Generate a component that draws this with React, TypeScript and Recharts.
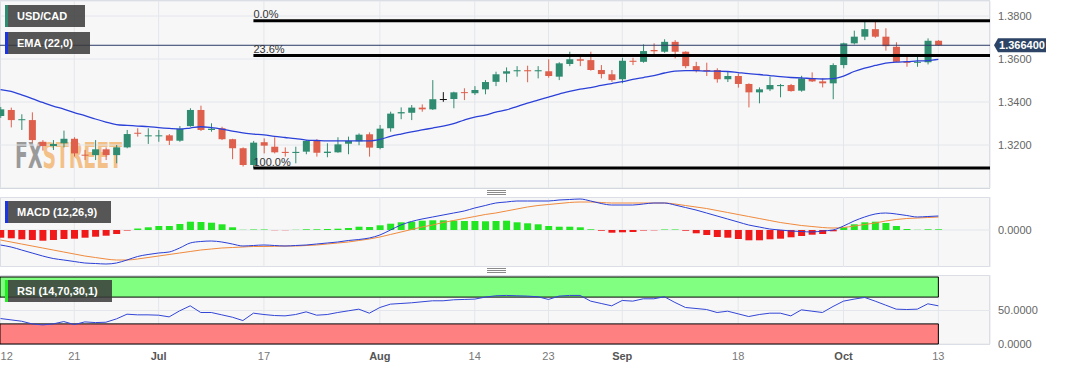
import React from "react";
import {
  Bar,
  CartesianGrid,
  Cell,
  ComposedChart,
  Line,
  ReferenceArea,
  ReferenceLine,
  XAxis,
  YAxis,
} from "recharts";

// USD/CAD daily, 12 Jun - 13 Oct
const opens = [
  1.3335, 1.3363, 1.3316, 1.3316, 1.3215, 1.3195, 1.3208, 1.3229, 1.3155, 1.3153,
  1.318, 1.3153, 1.3189, 1.3257, 1.3242, 1.3242, 1.3245, 1.322, 1.3288, 1.3363,
  1.327, 1.3278, 1.3227, 1.3185, 1.3107, 1.3213, 1.3192, 1.3168, 1.3163, 1.3169,
  1.3219, 1.3163, 1.3166, 1.3206, 1.3217, 1.325, 1.3186, 1.3278, 1.3347, 1.335,
  1.3374, 1.3366, 1.3414, 1.3414, 1.3446, 1.3441, 1.3459, 1.3494, 1.3532, 1.3543,
  1.3548, 1.3543, 1.3543, 1.3518, 1.3577, 1.3599, 1.3595, 1.3549, 1.3529, 1.3506,
  1.3592, 1.3587, 1.3642, 1.3634, 1.368, 1.3634, 1.3567, 1.3549, 1.3549, 1.3506,
  1.3521, 1.3484, 1.3445, 1.3459, 1.3474, 1.3479, 1.3453, 1.351, 1.3496, 1.3487,
  1.3572, 1.3673, 1.3704, 1.3739, 1.3704, 1.3657, 1.3587, 1.3583, 1.3585, 1.3685,
];
const highs = [
  1.3377, 1.3374, 1.3343, 1.3352, 1.3223, 1.3223, 1.3267, 1.3236, 1.3177, 1.3223,
  1.3189, 1.32, 1.327, 1.3278, 1.3278, 1.327, 1.3251, 1.3288, 1.3371, 1.3383,
  1.3301, 1.3285, 1.3229, 1.3189, 1.3219, 1.3231, 1.3236, 1.3189, 1.3192, 1.3223,
  1.3227, 1.3208, 1.3236, 1.3239, 1.3254, 1.3259, 1.3293, 1.3355, 1.3375, 1.3386,
  1.3389, 1.3502, 1.3446, 1.3448, 1.3464, 1.3474, 1.3502, 1.3541, 1.3561, 1.3567,
  1.3569, 1.3567, 1.3599, 1.3585, 1.3634, 1.3611, 1.3634, 1.3572, 1.3549, 1.3606,
  1.3606, 1.3668, 1.3673, 1.3692, 1.3688, 1.3636, 1.3587, 1.3583, 1.3557, 1.3544,
  1.3533, 1.3487, 1.3468, 1.3518, 1.3484, 1.3484, 1.3522, 1.3538, 1.351, 1.358,
  1.3676, 1.3732, 1.3775, 1.3778, 1.3743, 1.3678, 1.3611, 1.3623, 1.3696, 1.3688,
];
const lows = [
  1.3326, 1.3282, 1.327, 1.3208, 1.3174, 1.3177, 1.3189, 1.3146, 1.313, 1.313,
  1.313, 1.3115, 1.3185, 1.3239, 1.3205, 1.3215, 1.32, 1.3215, 1.3285, 1.3265,
  1.3262, 1.3223, 1.3134, 1.31, 1.3093, 1.3161, 1.3161, 1.3146, 1.3115, 1.3157,
  1.3146, 1.3143, 1.3164, 1.3157, 1.3199, 1.3146, 1.318, 1.3262, 1.332, 1.3316,
  1.3355, 1.3363, 1.3401, 1.3371, 1.3409, 1.3433, 1.3436, 1.3474, 1.3492, 1.3518,
  1.3492, 1.351, 1.3513, 1.3502, 1.3567, 1.3567, 1.3546, 1.351, 1.3494, 1.3487,
  1.3572, 1.3583, 1.3622, 1.3629, 1.3603, 1.3557, 1.3538, 1.3521, 1.349, 1.3493,
  1.3467, 1.3375, 1.3394, 1.3451, 1.3422, 1.3448, 1.3448, 1.3493, 1.3468, 1.3413,
  1.3557, 1.3668, 1.3688, 1.3699, 1.3639, 1.3585, 1.3564, 1.3564, 1.3575, 1.3662,
];
const closes = [
  1.3366, 1.3316, 1.332, 1.3223, 1.3195, 1.3205, 1.3229, 1.3161, 1.3152, 1.318,
  1.3153, 1.3189, 1.3251, 1.3253, 1.3245, 1.3245, 1.322, 1.3276, 1.3363, 1.327,
  1.3276, 1.3227, 1.3185, 1.3107, 1.3211, 1.3197, 1.3166, 1.3163, 1.3168, 1.3219,
  1.3164, 1.3169, 1.3203, 1.3219, 1.3248, 1.3188, 1.3276, 1.3346, 1.3353, 1.3374,
  1.3366, 1.3413, 1.3414, 1.3445, 1.3442, 1.3456, 1.3493, 1.3529, 1.3543, 1.3548,
  1.3543, 1.3548, 1.3521, 1.358, 1.3599, 1.3592, 1.3549, 1.353, 1.3502, 1.3592,
  1.3587, 1.3637, 1.3636, 1.368, 1.3634, 1.3567, 1.3544, 1.3544, 1.3506, 1.3521,
  1.3484, 1.3445, 1.3459, 1.3479, 1.3479, 1.3451, 1.351, 1.3496, 1.3487, 1.3572,
  1.3673, 1.3704, 1.3739, 1.3704, 1.366, 1.3587, 1.3583, 1.3587, 1.3685, 1.3664,
];
const ema22 = [
  1.3458, 1.3449, 1.3433, 1.3416, 1.3398, 1.3381, 1.3367, 1.3351, 1.3337, 1.3321,
  1.3307, 1.3295, 1.3291, 1.3288, 1.3286, 1.3281, 1.3277, 1.3274, 1.3279, 1.3285,
  1.3281, 1.3274, 1.3265, 1.3256, 1.3251, 1.3247, 1.324, 1.3235, 1.323, 1.3223,
  1.3221, 1.3219, 1.3219, 1.3219, 1.3219, 1.3219, 1.3226, 1.324, 1.3251, 1.3261,
  1.327, 1.3279, 1.3288, 1.33, 1.3316, 1.333, 1.3339, 1.3353, 1.3363, 1.3379,
  1.3395, 1.3409, 1.3423, 1.3437, 1.3449, 1.346, 1.3467, 1.3477, 1.3486, 1.3495,
  1.3505, 1.3514, 1.3523, 1.3535, 1.3544, 1.3546, 1.3546, 1.3544, 1.3544, 1.3542,
  1.3537, 1.3532, 1.3528, 1.3523, 1.3518, 1.3514, 1.3512, 1.3509, 1.3507, 1.3509,
  1.3521, 1.3542, 1.3558, 1.357, 1.3581, 1.3586, 1.3588, 1.3591, 1.3593, 1.3598,
];
const macdLine = [
  -0.0015, -0.0017, -0.002, -0.0023, -0.0026, -0.00285, -0.003, -0.00315, -0.0033, -0.00335,
  -0.0034, -0.0033, -0.003, -0.00265, -0.00245, -0.0023, -0.0022, -0.0018, -0.0013, -0.00115,
  -0.0011, -0.0012, -0.0014, -0.0016, -0.00155, -0.0015, -0.00155, -0.0016, -0.00155, -0.0015,
  -0.0014, -0.0013, -0.0012, -0.00105, -0.00095, -0.0008, -0.0005, 0.0, 0.0005, 0.00085,
  0.0011, 0.0013, 0.0015, 0.0017, 0.0019, 0.0022, 0.00245, 0.0027, 0.0028, 0.0029,
  0.0029, 0.0029, 0.0029, 0.003, 0.00305, 0.0031, 0.0029, 0.00265, 0.0025, 0.0025,
  0.0025, 0.0026, 0.0027, 0.0027, 0.0025, 0.00225, 0.002, 0.0017, 0.0014, 0.0011,
  0.0008, 0.0005, 0.0003, 0.0001, 0.0, -0.0001, -0.00015, -0.0002, -0.0001, 0.0,
  0.0004, 0.0009, 0.0013, 0.0016, 0.0017, 0.0016, 0.00145, 0.0013, 0.00135, 0.0014,
];
const signalLine = [
  -0.001, -0.0012, -0.0014, -0.0016, -0.0018, -0.002, -0.0022, -0.0024, -0.0026, -0.00275,
  -0.0029, -0.003, -0.003, -0.0029, -0.00275, -0.0026, -0.00245, -0.0023, -0.00215, -0.002,
  -0.0019, -0.0018, -0.00175, -0.0017, -0.00165, -0.00165, -0.00163, -0.0016, -0.0016, -0.00155,
  -0.0015, -0.0014, -0.0013, -0.0012, -0.00105, -0.0009, -0.0007, -0.00045, -0.0002, 0.00005,
  0.0003, 0.0005, 0.00075, 0.00095, 0.00115, 0.00135, 0.00155, 0.0017, 0.0019, 0.0021,
  0.0023, 0.00245, 0.00255, 0.00265, 0.00275, 0.0028, 0.0028, 0.00275, 0.0027, 0.0027,
  0.0027, 0.0027, 0.0027, 0.0027, 0.0026, 0.00245, 0.0023, 0.00215, 0.00195, 0.00175,
  0.00155, 0.00135, 0.00115, 0.00095, 0.00075, 0.0006, 0.00045, 0.00035, 0.00025, 0.0002,
  0.00025, 0.0004, 0.00055, 0.0007, 0.0009, 0.00105, 0.00115, 0.0012, 0.00125, 0.0013,
];
const macdHist = [
  -0.00077, -0.00083, -0.00093, -0.001, -0.00107, -0.001, -0.0009, -0.00087, -0.00077, -0.00067,
  -0.00057, -0.0004, -0.00005, 0.00015, 0.00027, 0.0004, 0.0004, 0.0006, 0.00083, 0.0008,
  0.00073, 0.00057, 0.00027, 0.00002, 0.00005, 0.00005, -0.00002, -0.00002, 0.00002, 0.00007,
  0.00007, 0.0001, 0.00013, 0.0002, 0.00033, 0.0003, 0.00047, 0.00063, 0.00077, 0.00083,
  0.00093, 0.00097, 0.00097, 0.00093, 0.0009, 0.0009, 0.00087, 0.0009, 0.00093, 0.00077,
  0.00067, 0.00057, 0.0004, 0.00033, 0.00033, 0.00027, 0.00007, -0.00007, -0.00027, -0.00023,
  -0.0002, -0.00005, -0.00003, 0.00005, 0.00005, -0.00007, -0.00033, -0.0005, -0.0007, -0.00077,
  -0.0009, -0.00103, -0.00103, -0.00093, -0.00087, -0.00073, -0.0006, -0.00047, -0.0004, -0.00013,
  0.00027, 0.00057, 0.00077, 0.00083, 0.0007, 0.0004, 0.0001, 0.00002, 0.00007, 0.00007,
];
const rsi14 = [
  38, 36, 34, 30, 28.5, 30, 33.5, 29, 33, 32,
  32.5, 37.5, 44.5, 43.5, 43.5, 43, 40.5, 49.5, 57, 47,
  47, 43.5, 40, 35, 46, 44, 42.5, 42, 44, 48,
  43, 44, 47, 49.5, 52, 46, 54.5, 59.5, 60.5, 61.5,
  63, 64.5, 64.5, 66, 66.5, 67, 70, 72, 72.5, 72,
  71.5, 70.5, 66.5, 71.5, 72.5, 72.5, 64, 60.5, 57, 65,
  64, 67.5, 67.5, 70.5, 62, 54.5, 53, 51.5, 47, 49,
  45, 41, 44, 46, 46, 42, 51, 49, 47, 56,
  64, 67, 69.5, 64, 58, 52, 51.5, 52, 60, 57,
];

const tickIdx = [0, 7, 15, 25, 36, 45, 52, 59, 70, 80, 89];
const tickLabels = ["12", "21", "Jul", "17", "Aug", "14", "23", "Sep", "18", "Oct", "13"];

const fibRatios = [0, 0.236, 1];
const fibLabels = ["0.0%", "23.6%", "100.0%"];
const fibStart = 24;

const UP = "#2f8c70";
const DOWN = "#de5f4b";
const GRID = "#e3e6eb";
const PLOT_BG = "#f7f7f8";
const BORDER = "#d3d8df";
const X_MIN = -0.05;
const X_MAX = 93.9;
const FONT = "Arial, 'Liberation Sans', Helvetica, sans-serif";

const rows = closes.map((c, i) => ({
  i,
  open: opens[i],
  high: highs[i],
  low: lows[i],
  close: c,
  range: [lows[i], highs[i]],
  ema: ema22[i],
  macd: macdLine[i],
  signal: signalLine[i],
  hist: macdHist[i],
  rsi: rsi14[i],
}));

const lastClose = closes[closes.length - 1];
const swingHigh = Math.max(...highs);
const swingLow = Math.min(...lows);

function Candle(props: any) {
  const { x, y, width, height, payload } = props;
  if (!payload) return null;
  const { open, high, low, close } = payload;
  const top = Math.min(y, y + height);
  const h = Math.abs(height);
  const py = (p: number) => top + ((high - p) / (high - low)) * h;
  const color = close > open ? UP : close < open ? DOWN : "#111";
  const cx = x + width / 2;
  const bodyTop = py(Math.max(open, close));
  const bodyH = Math.max(1, py(Math.min(open, close)) - bodyTop);
  return (
    <g>
      <line x1={cx} x2={cx} y1={top} y2={top + h} stroke={color} strokeWidth={1} />
      <rect x={x} y={bodyTop} width={width} height={bodyH} fill={color} />
    </g>
  );
}

function PriceTag(props: any) {
  const vb = props.viewBox;
  if (!vb) return null;
  const cy = vb.y;
  const x0 = vb.x + vb.width + 4;
  return (
    <g>
      <path
        d={`M${x0},${cy} L${x0 + 4},${cy - 7} L${x0 + 52},${cy - 7} L${x0 + 52},${cy + 7} L${x0 + 4},${cy + 7} Z`}
        fill="#2d4466"
      />
      <text x={x0 + 28} y={cy} dy="0.36em" textAnchor="middle" fill="#fff" fontSize={11} fontWeight={700}>
        {lastClose.toFixed(6)}
      </text>
    </g>
  );
}

function DateTick(props: any) {
  const { x, y, payload } = props;
  const k = tickIdx.indexOf(payload.value);
  const label = k >= 0 ? tickLabels[k] : "";
  const month = /[A-Za-z]/.test(label);
  return (
    <text
      x={x}
      y={y}
      dy="0.71em"
      textAnchor={x < 6 ? "start" : "middle"}
      fill={month ? "#555" : "#777"}
      fontSize={11}
      fontWeight={month ? 700 : 400}
    >
      {label}
    </text>
  );
}

function Badge({ top, width, accent, text }: { top: number; width: number; accent: string; text: string }) {
  return (
    <div
      style={{
        position: "absolute",
        left: 5,
        top,
        width,
        height: 22,
        background: "rgba(58,58,58,0.85)",
        borderLeft: `3px solid ${accent}`,
        boxSizing: "border-box",
        color: "#fff",
        fontSize: 11,
        fontWeight: 700,
        lineHeight: "22px",
        paddingLeft: 9,
        whiteSpace: "nowrap",
      }}
    >
      {text}
    </div>
  );
}

function Handle({ top }: { top: number }) {
  return (
    <div style={{ position: "absolute", left: 487, top, width: 19, height: 5 }}>
      {[0, 2, 4].map((d) => (
        <div key={d} style={{ position: "absolute", left: 0, top: d, width: 19, height: 1, background: "#8a8a8a" }} />
      ))}
    </div>
  );
}

const panelBg = (top: number, height: number): React.CSSProperties => ({
  position: "absolute",
  left: 0,
  top,
  width: 990,
  height,
  background: PLOT_BG,
  border: `1px solid ${BORDER}`,
  boxSizing: "border-box",
});

const yTick = { fill: "#666", fontSize: 11 };

export default function App() {
  return (
    <div
      style={{
        position: "fixed",
        left: 0,
        top: 0,
        width: 1067,
        height: 370,
        background: "#fff",
        overflow: "hidden",
        fontFamily: FONT,
      }}
    >
      {/* panel backgrounds + watermark */}
      <div style={panelBg(0, 189)} />
      <div style={panelBg(197, 70)} />
      <div style={panelBg(275, 70)} />
      <svg style={{ position: "absolute", left: 0, top: 0 }} width={200} height={188}>
        <defs>
          <linearGradient id="wm" gradientUnits="userSpaceOnUse" x1={15} y1={0} x2={122} y2={0}>
            <stop offset="0.25" stopColor="#9a9a9a" />
            <stop offset="0.25" stopColor="#f3c088" />
          </linearGradient>
        </defs>
        <text
          x={15}
          y={168}
          fontSize={35}
          fontWeight={700}
          fontFamily="'DejaVu Sans Condensed', 'DejaVu Sans', sans-serif"
          fill="url(#wm)"
          textLength={107}
          lengthAdjust="spacingAndGlyphs"
        >
          FXSTREET
        </text>
      </svg>
      <Handle top={190} />
      <Handle top={268} />

      {/* price panel */}
      <div style={{ position: "absolute", left: 0, top: 0 }}>
        <ComposedChart width={1067} height={188} data={rows} margin={{ top: 1, right: 0, bottom: 0, left: 0 }}>
          <CartesianGrid stroke={GRID} fill="none" />
          <XAxis dataKey="i" type="number" domain={[X_MIN, X_MAX]} ticks={tickIdx} hide allowDataOverflow />
          <YAxis
            orientation="right"
            width={77}
            domain={[1.3, 1.387]}
            ticks={[1.32, 1.34, 1.36, 1.38]}
            tickFormatter={(v: number) => v.toFixed(4)}
            axisLine={false}
            tickLine={false}
            tick={yTick}
            allowDataOverflow
          />
          <Bar dataKey="range" barSize={7} shape={<Candle />} isAnimationActive={false} />
          <Line
            type="monotone"
            dataKey="ema"
            stroke="#2a40d8"
            strokeWidth={1.3}
            dot={false}
            activeDot={false}
            isAnimationActive={false}
          />
          <ReferenceLine y={lastClose} stroke="#2a3b66" strokeWidth={1} ifOverflow="visible" label={(p: any) => <PriceTag {...p} />} />
          {fibRatios.map((r, k) => {
            const lvl = swingHigh - r * (swingHigh - swingLow);
            return (
              <ReferenceLine
                key={k}
                segment={[
                  { x: fibStart, y: lvl },
                  { x: X_MAX, y: lvl },
                ]}
                stroke="#000"
                strokeWidth={3}
                ifOverflow="visible"
                label={(p: any) =>
                  p.viewBox ? (
                    <text x={p.viewBox.x} y={p.viewBox.y - 2.5} fontSize={11} fill="#333">
                      {fibLabels[k]}
                    </text>
                  ) : null
                }
              />
            );
          })}
        </ComposedChart>
      </div>

      {/* MACD panel */}
      <div style={{ position: "absolute", left: 0, top: 197 }}>
        <ComposedChart width={1067} height={70} data={rows} margin={{ top: 0, right: 0, bottom: 0, left: 0 }}>
          <CartesianGrid stroke={GRID} fill="none" />
          <XAxis dataKey="i" type="number" domain={[X_MIN, X_MAX]} ticks={tickIdx} hide allowDataOverflow />
          <YAxis
            orientation="right"
            width={77}
            domain={[-0.0037, 0.0033]}
            ticks={[0]}
            tickFormatter={(v: number) => v.toFixed(4)}
            axisLine={false}
            tickLine={false}
            tick={yTick}
            allowDataOverflow
          />
          <Bar dataKey="hist" barSize={7} isAnimationActive={false}>
            {rows.map((r) => (
              <Cell key={r.i} fill={r.hist >= 0 ? "#22e622" : "#f01818"} />
            ))}
          </Bar>
          <Line type="monotone" dataKey="signal" stroke="#f08a3c" strokeWidth={1} dot={false} activeDot={false} isAnimationActive={false} />
          <Line type="monotone" dataKey="macd" stroke="#2a3fd6" strokeWidth={1} dot={false} activeDot={false} isAnimationActive={false} />
        </ComposedChart>
      </div>

      {/* RSI panel */}
      <div style={{ position: "absolute", left: 0, top: 275 }}>
        <ComposedChart width={1067} height={95} data={rows} margin={{ top: 0, right: 0, bottom: 0, left: 0 }}>
          <CartesianGrid stroke={GRID} fill="none" />
          <XAxis
            dataKey="i"
            type="number"
            domain={[X_MIN, X_MAX]}
            ticks={tickIdx}
            interval={0}
            height={26}
            axisLine={false}
            tickLine={false}
            tick={<DateTick />}
            allowDataOverflow
          />
          <YAxis
            orientation="right"
            width={77}
            domain={[0, 103]}
            ticks={[0, 50]}
            tickFormatter={(v: number) => v.toFixed(4)}
            axisLine={false}
            tickLine={false}
            tick={yTick}
            allowDataOverflow
          />
          <ReferenceArea x1={X_MIN} x2={89} y1={70} y2={100} fill="#80ff80" fillOpacity={1} stroke="#000" strokeWidth={1} ifOverflow="visible" />
          <ReferenceArea x1={X_MIN} x2={89} y1={0} y2={30} fill="#ff8080" fillOpacity={1} stroke="#000" strokeWidth={1} ifOverflow="visible" />
          <Line type="linear" dataKey="rsi" stroke="#3346d6" strokeWidth={1} dot={false} activeDot={false} isAnimationActive={false} />
        </ComposedChart>
      </div>

      <Badge top={5} width={80} accent={UP} text="USD/CAD" />
      <Badge top={32} width={85} accent="#1d35e0" text="EMA (22,0)" />
      <Badge top={201} width={106} accent="#1d35e0" text="MACD (12,26,9)" />
      <Badge top={280} width={107} accent="#22ee22" text="RSI (14,70,30,1)" />
    </div>
  );
}
